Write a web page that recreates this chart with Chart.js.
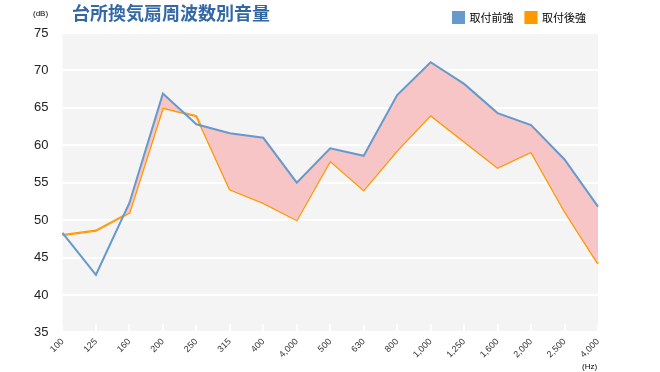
<!DOCTYPE html>
<html>
<head>
<meta charset="utf-8">
<script src="https://cdn.jsdelivr.net/npm/chart.js@4"></script>
<style>
body{margin:0;background:#fff;font-family:"Liberation Sans","Noto Sans CJK JP",sans-serif;}
#wrap{position:relative;width:660px;height:372px;}
#title{position:absolute;left:72px;top:-1px;font-size:18px;font-weight:bold;color:#3368a5;font-family:"Noto Sans CJK JP",sans-serif;}
.unit{position:absolute;font-size:8px;color:#000;}
</style>
</head>
<body>
<div id="wrap">
<canvas id="noiseChart" width="660" height="372"></canvas>
<div id="title">台所換気扇周波数別音量</div>
<div class="unit" style="left:33px;top:9px;">(dB)</div>
<div class="unit" style="left:582px;top:362px;">(Hz)</div>
</div>
<script>
const freqLabels = ["100","125","160","200","250","315","400","4,000","500","630","800","1,000","1,250","1,600","2,000","2,500","4,000"];
const beforeData = [48.3,42.7,52.3,66.9,62.8,61.6,61.0,55.0,59.6,58.6,66.7,71.1,68.2,64.3,62.7,58.1,51.8];
const afterData = [48.0,48.6,51.0,65.0,63.9,54.1,52.3,50.0,57.9,54.0,59.3,64.0,60.5,57.0,59.1,51.2,44.2];

const plotBg = {
id:"plotBg",
beforeDraw(chart){
const a = chart.chartArea;
const ctx = chart.ctx;
ctx.save();
ctx.fillStyle = "#f4f4f4";
ctx.fillRect(a.left,a.top,a.right-a.left,a.bottom-a.top);
ctx.restore();
}
};

new Chart(
document.getElementById("noiseChart"),
{
type:"line",
data:{
labels:freqLabels,
datasets:[{
label:"取付前強",
data:beforeData,
borderColor:"#6699cc",
backgroundColor:"#6699cc",
borderWidth:2,
pointRadius:0,
tension:0,
fill:{target:"+1",above:"#f7c5c5",below:"transparent"}
},{
label:"取付後強",
data:afterData,
borderColor:"#ff9900",
backgroundColor:"#ff9900",
borderWidth:2.2,
pointRadius:0,
tension:0,
fill:false
}]
},
options:{
responsive:false,
animation:false,
layout:{padding:{left:20,right:62,top:0,bottom:0}},
plugins:{
legend:{
position:"top",
align:"end",
labels:{
boxWidth:11,
boxHeight:11,
padding:12,
color:"#000",
font:{size:11,family:"'Noto Sans CJK JP', sans-serif"}
}
},
tooltip:{enabled:false}
},
scales:{
x:{
offset:false,
grid:{drawOnChartArea:false,color:"#ffffff",lineWidth:2,tickLength:-8},
border:{display:false},
ticks:{
minRotation:45,
maxRotation:45,
autoSkip:false,
padding:12,
color:"#333",
font:{size:9,family:"'Liberation Sans', sans-serif"}
}
},
y:{
min:35,
max:75,
ticks:{stepSize:5,padding:14,color:"#222",font:{size:13,family:"'Liberation Sans', sans-serif"}},
grid:{color:"#ffffff",lineWidth:2,drawTicks:false},
border:{display:false}
}
}
},
plugins:[plotBg]
});
</script>
</body>
</html>
